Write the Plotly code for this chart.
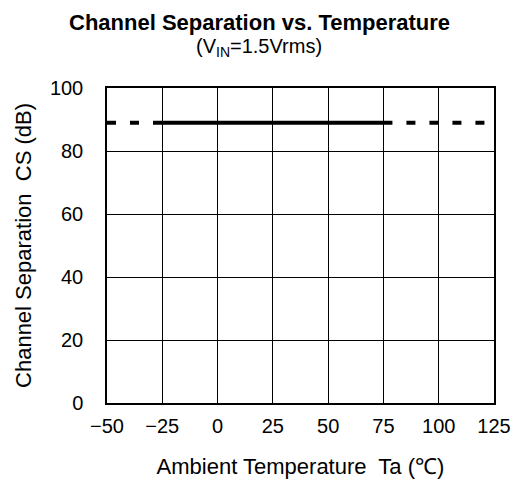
import plotly.graph_objects as go

# Data
temp_dash_low = [-50, -25]
temp_solid = [-25, 75]
temp_dash_high = [75, 125]
cs_value = 89
x_ticks = [-50, -25, 0, 25, 50, 75, 100, 125]
y_ticks = [0, 20, 40, 60, 80, 100]

FONT = "Liberation Sans, Arial, sans-serif"

fig = go.Figure()
for xs, dash in [(temp_dash_low, "9px,14px"), (temp_solid, "solid"), (temp_dash_high, "9px,14px")]:
    fig.add_trace(go.Scatter(
        x=xs, y=[cs_value] * len(xs), mode="lines",
        line=dict(color="black", width=4, dash=dash),
        showlegend=False, hoverinfo="skip", cliponaxis=False,
    ))

fig.update_layout(
    width=517, height=481,
    margin=dict(l=107, r=23, t=88, b=78, autoexpand=False),
    paper_bgcolor="white", plot_bgcolor="white",
    font=dict(family=FONT, size=20, color="black"),
    showlegend=False,
    annotations=[
        dict(text="<b>Channel Separation vs. Temperature</b>", xref="paper", yref="paper",
             x=0.393, y=1.0, yshift=66, xanchor="center", yanchor="middle",
             showarrow=False, font=dict(size=22)),
        dict(text="(V<sub>IN</sub>=1.5Vrms)", xref="paper", yref="paper",
             x=0.393, y=1.0, yshift=41, xanchor="center", yanchor="middle",
             showarrow=False, font=dict(size=20)),
    ],
)
fig.update_xaxes(
    range=[-50, 125], tickvals=x_ticks, ticktext=[str(v).replace("-", "\u2212") for v in x_ticks],
    showgrid=True, gridcolor="black", gridwidth=1.3,
    showline=True, linecolor="black", linewidth=1.5, mirror=True,
    zeroline=False, ticks="", ticklabelstandoff=4, ticklabeloverflow="allow",
    automargin=False, tickfont=dict(size=20),
    title=dict(text="Ambient Temperature  Ta (\u2103)", font=dict(size=22), standoff=23),
)
fig.update_yaxes(
    range=[0, 100], tickvals=y_ticks,
    showgrid=True, gridcolor="black", gridwidth=1.3,
    showline=True, linecolor="black", linewidth=1.5, mirror=True,
    zeroline=False, ticks="", ticklabelstandoff=18, ticklabeloverflow="allow",
    automargin=False, tickfont=dict(size=20),
    title=dict(text="Channel Separation  CS (dB)", font=dict(size=22), standoff=12),
)

# remove the default 8px page margin so the 517x481 figure fills the window exactly
fig.write_html("out.html", config={"displayModeBar": False},
               post_script="document.body.style.margin='0';")
